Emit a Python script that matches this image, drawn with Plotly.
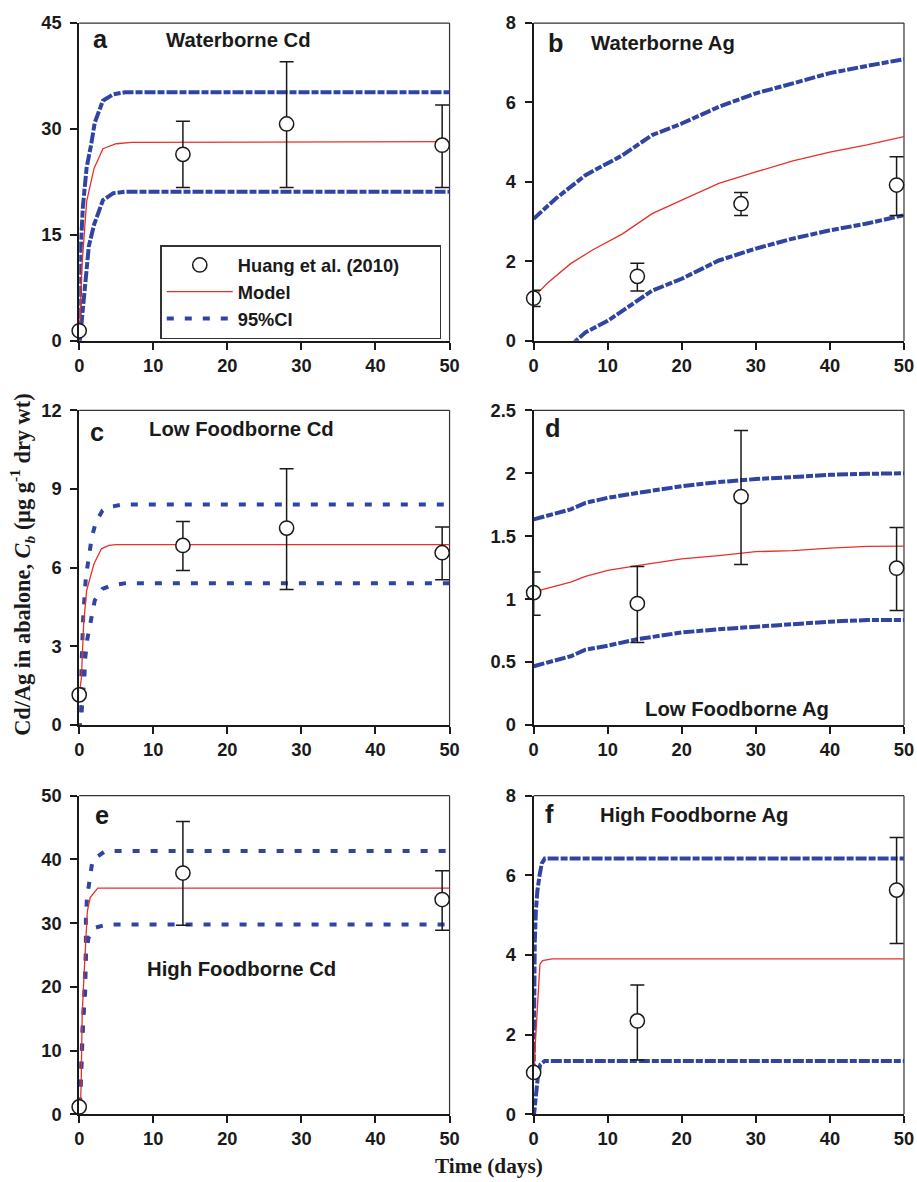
import plotly.graph_objects as go

# ---------------- data ----------------
# observed (Huang et al. 2010): time, mean, +err, -err
obs_t_a = [0, 14, 28, 49]
obs_a = [1.4, 26.4, 30.7, 27.7]
obs_a_up = [0, 4.7, 8.8, 5.7]
obs_a_dn = [0, 4.7, 9.0, 6.0]

obs_t_b = [0, 14, 28, 49]
obs_b = [1.07, 1.62, 3.45, 3.92]
obs_b_up = [0.2, 0.33, 0.28, 0.71]
obs_b_dn = [0.21, 0.37, 0.30, 0.77]

obs_t_c = [0, 14, 28, 49]
obs_c = [1.15, 6.85, 7.51, 6.57]
obs_c_up = [0, 0.91, 2.26, 0.98]
obs_c_dn = [0, 0.96, 2.34, 1.03]

obs_t_d = [0, 14, 28, 49]
obs_d = [1.052, 0.965, 1.815, 1.246]
obs_d_up = [0.163, 0.295, 0.525, 0.323]
obs_d_dn = [0.181, 0.309, 0.540, 0.336]

obs_t_e = [0, 14, 49]
obs_e = [1.16, 37.86, 33.7]
obs_e_up = [0, 8.1, 4.5]
obs_e_dn = [0, 8.2, 4.8]

obs_t_f = [0, 14, 49]
obs_f = [1.05, 2.345, 5.63]
obs_f_up = [0, 0.9, 1.32]
obs_f_dn = [0, 0.98, 1.34]

# model curves and 95% CI bounds
mod_t_a = [0, 0.1, 0.35, 0.7, 1.0, 2.0, 3.2, 5.0, 7.1, 50]
mod_a = [1.4, 2.8, 10.3, 15.9, 19.7, 24.4, 27.2, 27.9, 28.1, 28.2]
up_t_a = [0, 0.2, 0.5, 1.0, 1.6, 2.1, 3.2, 4.6, 6.2, 50]
up_a = [0, 13, 19, 24.5, 27.7, 30.9, 34.0, 34.9, 35.2, 35.2]
lo_t_a = [0, 0.5, 0.8, 1.0, 1.3, 2.0, 3.2, 4.6, 6.2, 50]
lo_a = [-1, 4.7, 7.0, 10.8, 13.4, 16.4, 19.9, 20.9, 21.1, 21.1]

mod_t_b = [0, 2, 5, 8, 12, 16, 20, 25, 30, 35, 40, 45, 50]
mod_b = [1.1, 1.47, 1.94, 2.29, 2.69, 3.2, 3.54, 3.96, 4.25, 4.53, 4.75, 4.93, 5.14]
up_t_b = [0, 3, 7, 12, 16, 20, 25, 30, 35, 40, 45, 50]
up_b = [3.07, 3.58, 4.17, 4.67, 5.18, 5.47, 5.89, 6.23, 6.48, 6.74, 6.92, 7.09]
lo_t_b = [4, 5.8, 7, 10, 14, 16, 20, 25, 30, 35, 40, 45, 50]
lo_b = [-0.29, 0.0, 0.21, 0.5, 1.01, 1.26, 1.56, 2.02, 2.32, 2.57, 2.78, 2.95, 3.16]

mod_t_c = [0, 0.3, 0.6, 1.0, 1.5, 2.0, 3.0, 4.0, 5.0, 50]
mod_c = [1.15, 1.8, 3.86, 5.13, 5.64, 6.15, 6.72, 6.85, 6.88, 6.88]
up_t_c = [0, 0.35, 0.55, 0.9, 1.2, 1.7, 2.25, 3.15, 4.0, 5.9, 50]
up_c = [-0.2, 2.77, 4.17, 5.64, 6.27, 7.16, 7.74, 8.18, 8.31, 8.41, 8.41]
lo_t_c = [0, 0.3, 0.7, 0.8, 1.1, 1.6, 2.1, 3.15, 4.3, 6.3, 50]
lo_c = [-0.2, 0.42, 1.82, 2.52, 3.28, 3.98, 4.75, 5.19, 5.32, 5.41, 5.41]

mod_t_d = [0, 5, 7, 10, 14, 20, 25, 30, 35, 40, 45, 50]
mod_d = [1.057, 1.136, 1.18, 1.228, 1.267, 1.32, 1.346, 1.377, 1.385, 1.406, 1.42, 1.422]
up_t_d = [0, 5, 7, 10, 14, 20, 25, 30, 35, 40, 45, 50]
up_d = [1.634, 1.713, 1.765, 1.805, 1.844, 1.897, 1.93, 1.954, 1.97, 1.988, 1.996, 2.0]
lo_t_d = [0, 5, 7, 10, 14, 20, 25, 30, 35, 40, 45, 50]
lo_d = [0.467, 0.546, 0.598, 0.63, 0.682, 0.735, 0.761, 0.782, 0.8, 0.821, 0.834, 0.834]

mod_t_e = [0, 0.2, 0.27, 0.4, 0.7, 0.9, 1.1, 1.5, 2.5, 50]
mod_e = [1.16, 2.4, 5.0, 15.6, 23.0, 28.8, 31.9, 34.05, 35.5, 35.5]
up_t_e = [0, 0.18, 0.27, 0.45, 0.6, 0.68, 0.81, 0.9, 0.9, 1.04, 1.4, 1.8, 3.5, 50]
up_e = [-1.3, 3.4, 7.7, 13.5, 16.6, 19.3, 22.4, 25.3, 30.9, 33.8, 36.7, 39.9, 41.3, 41.3]
lo_t_e = [0, 0.18, 0.45, 0.81, 0.9, 1.26, 1.7, 2.2, 3.8, 50]
lo_e = [-1.3, 5.0, 13.5, 19.3, 25.1, 27.7, 28.5, 29.3, 29.8, 29.8]

mod_t_f = [0, 0.18, 0.4, 0.67, 0.85, 1.2, 2.5, 50]
mod_f = [1.05, 1.63, 2.62, 3.28, 3.77, 3.86, 3.9, 3.9]
up_t_f = [0, 0.05, 0.15, 0.3, 0.5, 0.8, 1.1, 1.5, 50]
up_f = [1.0, 3.0, 4.3, 5.1, 5.6, 6.0, 6.3, 6.42, 6.42]
lo_t_f = [0, 0.2, 0.4, 0.6, 0.9, 1.5, 50]
lo_f = [-0.1, 0.3, 0.7, 1.0, 1.25, 1.34, 1.34]

panel_letters = ["a", "b", "c", "d", "e", "f"]
panel_titles = ["Waterborne Cd", "Waterborne Ag", "Low Foodborne Cd",
                "Low Foodborne Ag", "High Foodborne Cd", "High Foodborne Ag"]
y_ranges = [[0, 45], [0, 8], [0, 12], [0, 2.5], [0, 50], [0, 8]]
y_dticks = [15, 2, 3, 0.5, 10, 2]
x_ticks = [0, 10, 20, 30, 40, 50]
legend_names = ["Huang et al. (2010)" + "\u00a0" * 7, "Model", "95%CI"]

# ---------------- layout geometry ----------------
# the page keeps an 8px body margin; the captured area is about 933x1198 page px
PAD = 8
KX, KY = 933 / 917, 1198 / 1182
W, H = 925, 1190


def px(x):
    return (x * KX - PAD) / W


def py(y):
    return 1 - (y * KY - PAD) / H


S = 1.015  # size compensation
BLUE = "#2F44A3"
RED = "#E8302A"
INK = "#1a1a1a"
x_doms = [[px(82), px(452)], [px(536), px(906)]]
y_doms = [[py(339), py(20)], [py(725), py(409)], [py(1116), py(796)]]
dense_dash = "11px,2px,7px,2px"
simple_dash = "7px,11px"

panels = [
    (obs_t_a, obs_a, obs_a_up, obs_a_dn, mod_t_a, mod_a, up_t_a, up_a, lo_t_a, lo_a, dense_dash),
    (obs_t_b, obs_b, obs_b_up, obs_b_dn, mod_t_b, mod_b, up_t_b, up_b, lo_t_b, lo_b, dense_dash),
    (obs_t_c, obs_c, obs_c_up, obs_c_dn, mod_t_c, mod_c, up_t_c, up_c, lo_t_c, lo_c, simple_dash),
    (obs_t_d, obs_d, obs_d_up, obs_d_dn, mod_t_d, mod_d, up_t_d, up_d, lo_t_d, lo_d, dense_dash),
    (obs_t_e, obs_e, obs_e_up, obs_e_dn, mod_t_e, mod_e, up_t_e, up_e, lo_t_e, lo_e, simple_dash),
    (obs_t_f, obs_f, obs_f_up, obs_f_dn, mod_t_f, mod_f, up_t_f, up_f, lo_t_f, lo_f, dense_dash),
]

fig = go.Figure()
tickfont = dict(family="Liberation Sans, Arial, sans-serif", size=18 * S, color=INK, weight="bold")
lay = {}
for i, (ot, oy, oup, odn, mt, my, ut, uy, lt, ly, dash) in enumerate(panels):
    n = i + 1
    xa = "x" if n == 1 else f"x{n}"
    ya = "y" if n == 1 else f"y{n}"
    leg = (i == 2)
    fig.add_trace(go.Scatter(x=ut, y=uy, mode="lines", xaxis=xa, yaxis=ya,
                             line=dict(color=BLUE, width=4, dash=dash),
                             name=legend_names[2], showlegend=leg, legendrank=3))
    fig.add_trace(go.Scatter(x=lt, y=ly, mode="lines", xaxis=xa, yaxis=ya,
                             line=dict(color=BLUE, width=4, dash=dash),
                             name=legend_names[2], showlegend=False))
    fig.add_trace(go.Scatter(x=mt, y=my, mode="lines", xaxis=xa, yaxis=ya,
                             line=dict(color=RED, width=1.3),
                             name=legend_names[1], showlegend=leg, legendrank=2))
    fig.add_trace(go.Scatter(x=ot, y=oy, mode="markers", xaxis=xa, yaxis=ya,
                             marker=dict(symbol="circle", size=14 * S, color="white",
                                         line=dict(color=INK, width=1.5)),
                             error_y=dict(type="data", array=oup, arrayminus=odn,
                                          color=INK, thickness=1.5, width=7),
                             cliponaxis=False,
                             name=legend_names[0], showlegend=leg, legendrank=1))
    col = i % 2
    row = i // 2
    lay["xaxis" if n == 1 else f"xaxis{n}"] = dict(
        domain=x_doms[col], anchor=ya, range=[0, 50], tickvals=x_ticks,
        showline=True, linecolor=INK, linewidth=2, ticks="outside", ticklen=7,
        tickwidth=1.5, tickcolor=INK, showgrid=False, zeroline=False, tickfont=tickfont)
    lay["yaxis" if n == 1 else f"yaxis{n}"] = dict(
        domain=y_doms[row], anchor=xa, range=y_ranges[i], dtick=y_dticks[i], tick0=0,
        showline=True, linecolor=INK, linewidth=2, ticks="outside", ticklen=7,
        tickwidth=1.5, tickcolor=INK, showgrid=False, zeroline=False, tickfont=tickfont,
        ticklabelstandoff=5)

fig.update_layout(**lay)

# top/right borders of each panel
shapes = []
for n in range(1, 7):
    xr = "x domain" if n == 1 else f"x{n} domain"
    yr = "y domain" if n == 1 else f"y{n} domain"
    shapes.append(dict(type="line", xref=xr, yref=yr, x0=0, x1=1, y0=1, y1=1,
                       line=dict(color="#333", width=1.2), layer="below"))
    shapes.append(dict(type="line", xref=xr, yref=yr, x0=1, x1=1, y0=0, y1=1,
                       line=dict(color="#333", width=1.2), layer="below"))

# panel letters and titles (reference pixel positions)
letter_pos = [(103, 36), (558, 40), (100, 431), (555, 427), (105, 815), (552, 814)]
title_pos = [(241, 37), (665, 40), (244, 428), (739, 709), (244, 970), (697, 815)]
ann = []
for (lx, lyp), (tx, typ), L, T in zip(letter_pos, title_pos, panel_letters, panel_titles):
    ann.append(dict(text=L, x=px(lx), y=py(lyp), xref="paper", yref="paper",
                    showarrow=False, xanchor="center", yanchor="middle",
                    font=dict(family="Liberation Sans, Arial", size=25 * S, color=INK, weight="bold")))
    ann.append(dict(text=T, x=px(tx), y=py(typ), xref="paper", yref="paper",
                    showarrow=False, xanchor="center", yanchor="middle",
                    font=dict(family="Liberation Sans, Arial", size=20 * S, color=INK, weight="bold")))

ann.append(dict(text="Time (days)", x=px(491), y=py(1168), xref="paper", yref="paper",
                showarrow=False, xanchor="center", yanchor="middle",
                font=dict(family="Liberation Serif, Times New Roman, serif", size=21 * S,
                          color=INK, weight="bold")))
ann.append(dict(text="Cd/Ag in abalone, <i>C</i><sub><i>b</i></sub> (μg g<sup>-1</sup> dry wt)",
                x=px(25), y=py(564), xref="paper", yref="paper", textangle=-90,
                showarrow=False, xanchor="center", yanchor="middle",
                font=dict(family="Liberation Serif, Times New Roman, serif", size=22 * S,
                          color=INK, weight="bold")))

fig.update_layout(
    width=W, height=H, margin=dict(l=0, r=0, t=0, b=0),
    paper_bgcolor="white", plot_bgcolor="white",
    shapes=shapes, annotations=ann,
    legend=dict(x=px(163), y=py(243), xanchor="left", yanchor="top",
                bordercolor="#333", borderwidth=1.5, bgcolor="white",
                itemwidth=66, traceorder="normal",
                font=dict(family="Liberation Sans, Arial", size=18 * S, color=INK, weight="bold")),
)

fig.write_html("out.html")
